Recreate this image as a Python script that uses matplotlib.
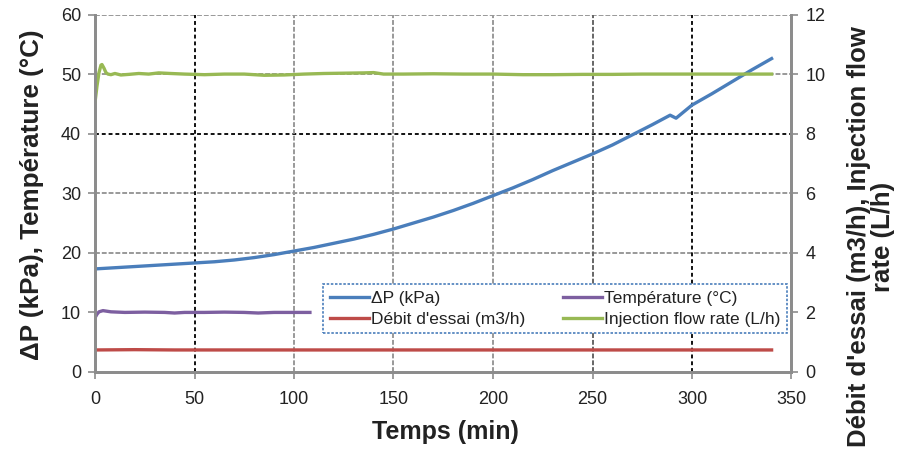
import matplotlib
matplotlib.use('Agg')
import matplotlib.pyplot as plt

plt.rcParams['font.family'] = ['Liberation Sans', 'DejaVu Sans']

# data
# Delta P (kPa), left axis
dp_t = [0, 10, 20, 30, 40, 50, 60, 70, 80, 90, 100, 110, 120, 130, 140, 150,
        160, 170, 180, 190, 200, 210, 220, 230, 240, 250, 260, 270, 280, 289,
        292, 300, 310, 320, 330, 340]
dp_val = [17.3, 17.5, 17.7, 17.9, 18.1, 18.3, 18.5, 18.8, 19.2, 19.7, 20.3,
          20.9, 21.6, 22.3, 23.1, 24.0, 25.0, 26.0, 27.1, 28.3, 29.6, 30.9,
          32.3, 33.8, 35.2, 36.6, 38.1, 39.8, 41.5, 43.1, 42.6, 44.8, 46.7,
          48.7, 50.7, 52.6]

# temperature (°C), left axis
temp_t = [0, 1, 2, 4, 8, 15, 25, 35, 40, 45, 55, 65, 75, 82, 90, 100, 108]
temp_val = [9.1, 9.7, 10.1, 10.3, 10.1, 10.0, 10.05, 10.0, 9.9, 10.0, 10.0,
            10.05, 10.0, 9.9, 10.0, 10.0, 10.0]

# test flow (m3/h), right axis
flow_t = [0, 20, 40, 60, 100, 150, 200, 250, 300, 340]
flow_val = [0.74, 0.75, 0.74, 0.74, 0.74, 0.74, 0.74, 0.74, 0.74, 0.74]

# injection flow rate (L/h), right axis
inj_t = [0, 1, 2, 3, 3.5, 4.5, 5.5, 6.5, 8, 10, 13, 17, 22, 27, 32, 38, 45,
         55, 65, 75, 85, 95, 105, 115, 125, 135, 140, 145, 155, 170, 185, 200,
         215, 230, 245, 260, 275, 290, 305, 320, 340]
inj_val = [9.05, 9.6, 10.05, 10.3, 10.32, 10.2, 10.05, 10.0, 9.98, 10.02,
           9.97, 9.99, 10.02, 10.0, 10.04, 10.02, 10.0, 9.98, 10.0, 10.0,
           9.96, 9.97, 10.0, 10.02, 10.03, 10.04, 10.05, 10.0, 10.0, 10.01,
           10.0, 10.0, 9.98, 9.98, 9.99, 9.99, 10.0, 10.0, 10.0, 10.0, 10.0]

x_ticks = [0, 50, 100, 150, 200, 250, 300, 350]
left_ticks = [0, 10, 20, 30, 40, 50, 60]
right_ticks = [0, 2, 4, 6, 8, 10, 12]

c_dp = '#4a7ebb'
c_temp = '#7d5fa0'
c_flow = '#be4b48'
c_inj = '#98b954'
c_spine = '#8c8c8c'
c_text = '#222222'

fig = plt.figure(figsize=(9.1, 4.49), dpi=100)
ax = fig.add_axes([95 / 910, 1 - 372 / 449, 696.5 / 910, 357.5 / 449])
ax2 = ax.twinx()

# gridlines, mixed grey dashed / black dotted as in the scan
hgrid = {20: '#999999', 30: '#999999', 40: '#111111', 50: '#999999', 60: '#999999'}
for yv, col in hgrid.items():
    ls = (0, (2, 1.5)) if col == '#111111' else (0, (2.5, 1))
    ax.axhline(yv, color=col, lw=1.4, ls=ls, zorder=0)
vgrid = {50: '#111111', 100: '#999999', 150: '#999999', 200: '#999999',
         250: '#666666', 300: '#111111'}
for xv, col in vgrid.items():
    ls = (0, (2, 1.5)) if col == '#111111' else (0, (2.5, 1))
    ax.axvline(xv, color=col, lw=1.4, ls=ls, zorder=0)

l_dp, = ax.plot(dp_t, dp_val, color=c_dp, lw=2.4, label='ΔP (kPa)', zorder=3)
l_temp, = ax.plot(temp_t, temp_val, color=c_temp, lw=2.4, label='Température (°C)', zorder=3)
l_flow, = ax2.plot(flow_t, flow_val, color=c_flow, lw=2.4, label="Débit d'essai (m3/h)")
l_inj, = ax2.plot(inj_t, inj_val, color=c_inj, lw=2.4, label='Injection flow rate (L/h)')

ax.set_xlim(0, 350)
ax.set_ylim(0, 60)
ax2.set_ylim(0, 12)
ax.set_xticks(x_ticks)
ax.set_yticks(left_ticks)
ax2.set_yticks(right_ticks)

for a in (ax, ax2):
    a.spines['top'].set_visible(False)
    for s in ('left', 'right', 'bottom'):
        a.spines[s].set_color(c_spine)
        a.spines[s].set_linewidth(2)
    a.tick_params(direction='out', length=5, width=1.2, color=c_spine,
                  labelsize=13, labelcolor=c_text, pad=5)
ax.tick_params(axis='x', pad=9)

leg = ax2.legend(handles=[l_dp, l_flow, l_temp, l_inj], ncol=2,
                 bbox_to_anchor=(0.328, 0.109, 0.665, 0.163), mode='expand',
                 loc='lower left', borderaxespad=0, fontsize=12.5,
                 handlelength=2.3, handletextpad=0.1, columnspacing=1.0,
                 labelspacing=0.35, borderpad=0.35, fancybox=False,
                 framealpha=1, labelcolor=c_text)
leg.get_frame().set_edgecolor(c_dp)
leg.get_frame().set_linestyle((0, (1.5, 1)))
leg.get_frame().set_linewidth(1.2)

fig.text(445 / 910, 1 - 432 / 449, 'Temps (min)', ha='center', va='center',
         fontsize=18, fontweight='bold', color=c_text)
fig.text(32 / 910, 1 - 195 / 449, 'ΔP (kPa), Température (°C)', ha='center',
         va='center', rotation=90, fontsize=18.7, fontweight='bold', color=c_text)
fig.text(871 / 910, 1 - 237 / 449, "Débit d'essai (m3/h), Injection flow\nrate (L/h)",
         ha='center', va='center', rotation=90, fontsize=18.5, fontweight='bold',
         color=c_text, linespacing=1.05, multialignment='center')

fig.savefig('out.png', dpi=100)
